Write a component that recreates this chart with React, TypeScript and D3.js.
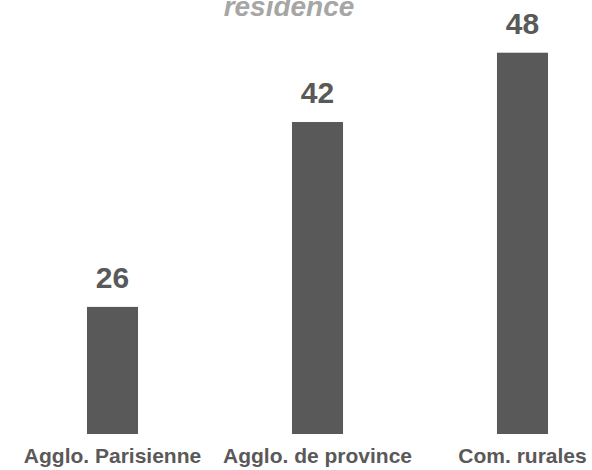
import React from "react";
import * as d3 from "d3";

const categories = ["Agglo. Parisienne", "Agglo. de province", "Com. rurales"];
const values = [26, 42, 48];
const titleText = "résidence";

const W = 592;
const H = 470;

export default function App() {
  const x = d3
    .scaleBand<string>()
    .domain(categories)
    .range([10, 625])
    .paddingInner(0.751)
    .paddingOuter(0.3755);
  const y = d3.scaleLinear().domain([15, 48]).range([434, 52.7]);
  const font = "'Liberation Sans', Arial, Helvetica, sans-serif";
  const grey = "#595959";

  return (
    <div style={{ position: "fixed", left: 0, top: 0 }}>
      <svg width={W} height={H} style={{ display: "block", background: "#ffffff" }}>
        <text
          x={289}
          y={16}
          textAnchor="middle"
          fontFamily={font}
          fontSize={28}
          fontWeight="bold"
          fontStyle="italic"
          fill="#a6a6a6"
        >
          {titleText}
        </text>
        {categories.map((c, i) => {
          const x0 = x(c) as number;
          const bw = x.bandwidth();
          const yt = y(values[i]);
          return (
            <g key={c}>
              <rect x={x0} y={yt} width={bw} height={y(15) - yt} fill={grey} />
              <text
                x={x0 + bw / 2}
                y={yt - 19}
                textAnchor="middle"
                fontFamily={font}
                fontSize={30}
                fontWeight="bold"
                fill={grey}
              >
                {values[i]}
              </text>
              <text
                x={x0 + bw / 2}
                y={463}
                textAnchor="middle"
                fontFamily={font}
                fontSize={21}
                fontWeight="bold"
                fill={grey}
              >
                {c}
              </text>
            </g>
          );
        })}
      </svg>
    </div>
  );
}
